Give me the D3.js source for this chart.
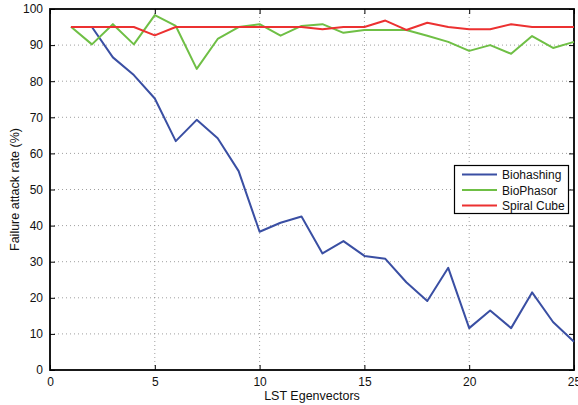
<!DOCTYPE html>
<html><head><meta charset="utf-8">
<script src="https://cdn.jsdelivr.net/npm/d3@7"></script>
<style>body{margin:0;background:#fff}svg{display:block}text{font-family:"Liberation Sans",Arial,sans-serif}</style>
</head><body><svg id="c" width="578" height="405"></svg>
<script>
const xs = d3.range(1, 26);
const biohashing = [95,95,86.6,81.7,75.2,63.4,69.3,64.2,55.1,38.3,40.8,42.5,32.3,35.7,31.6,30.8,24.3,19.1,28.3,11.6,16.5,11.6,21.5,13.3,7.8];
const biophasor  = [95.1,90.2,95.8,90.2,98.3,95.3,83.4,91.7,95,95.8,92.6,95.3,95.8,93.4,94.2,94.2,94.2,92.6,90.9,88.4,90.0,87.6,92.5,89.2,90.9];
const spiral     = [95,95,95,95,92.7,95,95,95,95,95,95,95,94.4,95,95,96.8,94.2,96.2,95,94.4,94.4,95.8,95,95,95];
const seriesNames = ["Biohashing","BioPhasor","Spiral Cube"];
const colors = ["#3a4fa3","#6fbf45","#ec3131"];
const xTicks = [0,5,10,15,20,25];
const yTicks = d3.range(0,101,10);

const svg = d3.select("#c");
const L=50,R=574,T=9,B=370;
const x = d3.scaleLinear().domain([0,25]).range([L,R]);
const y = d3.scaleLinear().domain([0,100]).range([B,T]);

// grid
const g = svg.append("g");
g.selectAll(".gx").data(xTicks.slice(1,-1)).join("line")
 .attr("x1",d=>x(d)).attr("x2",d=>x(d)).attr("y1",T).attr("y2",B)
 .attr("stroke","#888").attr("stroke-width",0.8).attr("stroke-dasharray","1,3");
g.selectAll(".gy").data(yTicks.slice(1,-1)).join("line")
 .attr("x1",L).attr("x2",R).attr("y1",d=>y(d)).attr("y2",d=>y(d))
 .attr("stroke","#888").attr("stroke-width",0.8).attr("stroke-dasharray","1,3");

// axes
const ax = svg.append("g").attr("transform",`translate(0,${B})`)
 .call(d3.axisBottom(x).tickValues(xTicks).tickSize(-5).tickPadding(7));
const ay = svg.append("g").attr("transform",`translate(${L},0)`)
 .call(d3.axisLeft(y).tickValues(yTicks).tickSize(-5).tickPadding(7));
const axt = svg.append("g").attr("transform",`translate(0,${T})`)
 .call(d3.axisTop(x).tickValues(xTicks).tickSize(-5).tickFormat(""));
const ayr = svg.append("g").attr("transform",`translate(${R},0)`)
 .call(d3.axisRight(y).tickValues(yTicks).tickSize(-5).tickFormat(""));
[ax,ay,axt,ayr].forEach(a=>{
  a.select(".domain").remove();
  a.selectAll("line").attr("stroke","#000");
  a.selectAll("text").attr("font-size",12).attr("fill","#111").style("font-family","'Liberation Sans',Arial,sans-serif");
});
svg.append("rect").attr("x",L).attr("y",T).attr("width",R-L).attr("height",B-T)
 .attr("fill","none").attr("stroke","#000").attr("stroke-width",1.8);

// lines
const line = d3.line().x((d,i)=>x(xs[i])).y(d=>y(d));
[biohashing,biophasor,spiral].forEach((s,k)=>{
  svg.append("path").datum(s).attr("d",line).attr("fill","none")
   .attr("stroke",colors[k]).attr("stroke-width",2).attr("stroke-linejoin","round");
});

// labels
svg.append("text").attr("x",(L+R)/2).attr("y",400).attr("text-anchor","middle")
 .attr("font-size",12.5).attr("fill","#111").text("LST Egenvectors");
svg.append("text").attr("transform",`translate(18.5,${(T+B)/2}) rotate(-90)`).attr("text-anchor","middle")
 .attr("font-size",12.5).attr("fill","#111").text("Failure attack rate (%)");

// legend
const lg = svg.append("g");
lg.append("rect").attr("x",454.5).attr("y",165.5).attr("width",114).attr("height",48)
 .attr("fill","#fff").attr("stroke","#000").attr("stroke-width",1.2);
seriesNames.forEach((n,i)=>{
  const yy = 174.5 + i*15.5;
  lg.append("line").attr("x1",462).attr("x2",497).attr("y1",yy).attr("y2",yy)
   .attr("stroke",colors[i]).attr("stroke-width",2);
  lg.append("text").attr("x",502).attr("y",yy+4.5).attr("font-size",12).attr("fill","#111").text(n);
});
</script></body></html>
